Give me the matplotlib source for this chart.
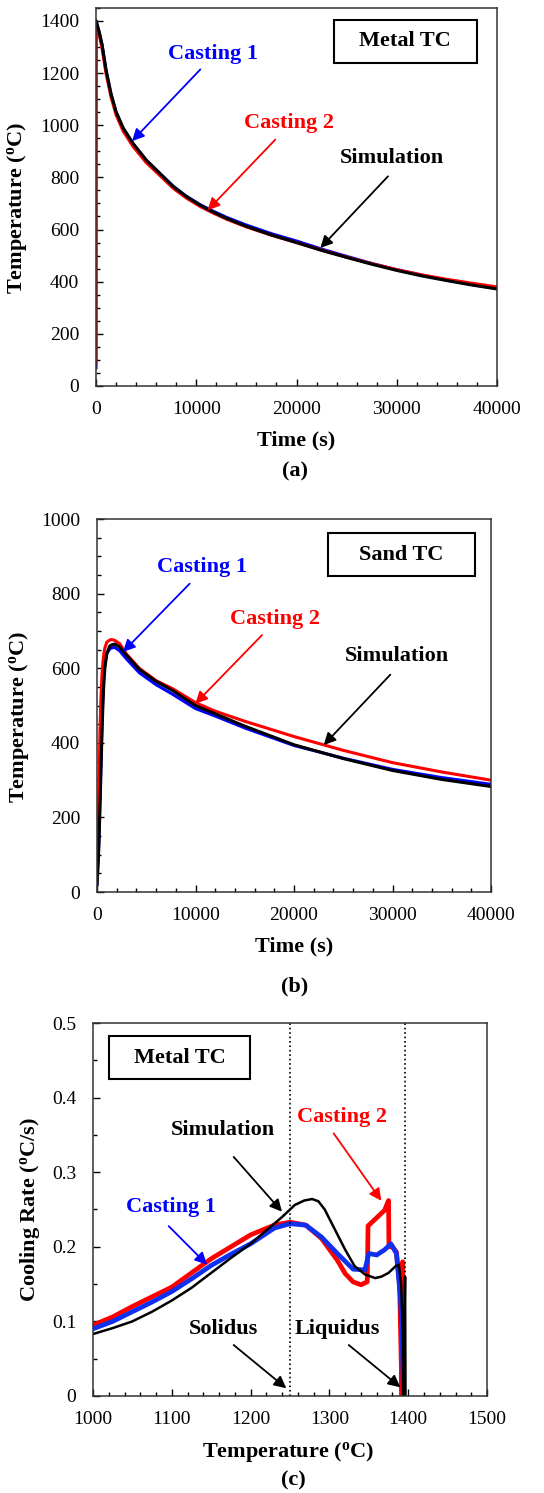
import matplotlib
matplotlib.use('Agg')
import matplotlib.pyplot as plt
from matplotlib.patches import Rectangle
from matplotlib.ticker import MultipleLocator, FuncFormatter

plt.rcParams['font.family'] = 'Liberation Serif'
plt.rcParams['mathtext.fontset'] = 'custom'
plt.rcParams['mathtext.rm'] = 'Liberation Serif'
plt.rcParams['mathtext.bf'] = 'Liberation Serif:bold'

# (a) metal thermocouple, temperature vs time
a_time = [0, 10, 300, 600, 1000, 1500, 2000, 2700, 3700, 5000, 6400, 7700, 9000,
          10400, 11700, 13000, 15000, 17500, 20000, 22500, 25000, 27500, 30000,
          32500, 35000, 37500, 40000]
a_sim = [1400, 1399, 1360, 1310, 1212, 1120, 1052, 990, 930, 867, 814, 765, 727,
         693, 667, 643, 612, 579, 550, 520, 493, 467, 443, 422, 404, 387, 372]
a_cast1 = [70, 1400, 1360, 1308, 1210, 1118, 1050, 988, 928, 866, 814, 766, 728,
           695, 670, 647, 617, 584, 556, 525, 497, 470, 446, 425, 406, 389, 374]
a_cast2 = [90, 1395, 1350, 1295, 1198, 1108, 1040, 978, 918, 857, 806, 758, 721,
           688, 663, 640, 610, 578, 550, 521, 494, 469, 446, 426, 409, 394, 380]

# (b) sand thermocouple
b_time = [0, 150, 200, 300, 400, 500, 600, 700, 800, 1000, 1300, 1500, 1800, 2300,
          3000, 4300, 6000, 7700, 10000, 12000, 15000, 20000, 25000, 30000, 35000, 40000]
b_sim = [20, 95, 130, 225, 320, 420, 500, 560, 600, 640, 660, 663, 665, 657,
         635, 597, 565, 540, 500, 478, 445, 395, 358, 326, 302, 283]
b_cast1 = [20, 110, 150, 250, 350, 450, 530, 585, 615, 640, 652, 655, 656, 647,
           625, 588, 556, 530, 492, 472, 440, 393, 359, 329, 307, 289]
b_cast2 = [30, 200, 270, 430, 520, 580, 615, 640, 655, 670, 676, 677, 675, 666,
           638, 600, 567, 545, 508, 485, 458, 417, 380, 347, 322, 300]

# (c) cooling rate vs temperature, metal thermocouple
c_sim_t = [1000, 1025, 1050, 1075, 1100, 1125, 1150, 1175, 1200, 1220, 1240, 1256,
           1268, 1278, 1286, 1294, 1307, 1320, 1332, 1345, 1358, 1366, 1375, 1384,
           1388, 1391, 1393, 1394, 1396, 1396.5]
c_sim_r = [0.083, 0.091, 0.100, 0.113, 0.128, 0.145, 0.165, 0.185, 0.204, 0.222,
           0.240, 0.256, 0.262, 0.264, 0.261, 0.250, 0.223, 0.196, 0.174, 0.163,
           0.158, 0.160, 0.165, 0.174, 0.176, 0.150, 0.090, 0.0, 0.160, 0.0]
c_cast1_t = [1000, 1025, 1050, 1075, 1100, 1125, 1150, 1175, 1200, 1230, 1250, 1270,
             1290, 1310, 1330, 1345, 1350, 1360, 1370, 1378, 1385, 1390, 1392, 1394]
c_cast1_r = [0.090, 0.100, 0.113, 0.126, 0.140, 0.157, 0.175, 0.190, 0.204, 0.225,
             0.231, 0.229, 0.213, 0.191, 0.170, 0.169, 0.191, 0.189, 0.196, 0.204,
             0.191, 0.133, 0.093, 0.0]
c_cast2_t = [1000, 1025, 1050, 1075, 1100, 1125, 1150, 1175, 1200, 1230, 1250, 1270,
             1290, 1310, 1320, 1330, 1340, 1348, 1349, 1360, 1370, 1375, 1375.5,
             1380, 1385, 1389, 1392, 1393, 1393.5]
c_cast2_r = [0.095, 0.106, 0.120, 0.133, 0.146, 0.165, 0.184, 0.200, 0.216, 0.229,
             0.233, 0.229, 0.211, 0.182, 0.164, 0.153, 0.149, 0.153, 0.228, 0.239,
             0.249, 0.262, 0.200, 0.200, 0.193, 0.150, 0.0, 0.180, 0.0]

BLUE, RED, BLACK = '#0000FF', '#FF0000', 'black'
ANN = dict(fontsize=16, fontweight='bold', ha='center', va='center')


def arrow(ax, tail, head, color):
    ax.annotate('', xy=head, xytext=tail,
                arrowprops=dict(arrowstyle='-|>', color=color, lw=1.3, mutation_scale=18,
                                shrinkA=0, shrinkB=0))


def boxlabel(ax, x0, y0, x1, y1, text):
    ax.add_patch(Rectangle((x0, y0), x1 - x0, y1 - y0, transform=ax.transAxes,
                           fill=False, lw=1.5, ec='black', zorder=5))
    ax.text((x0 + x1) / 2, (y0 + y1) / 2, text, transform=ax.transAxes, **ANN)


def style(ax):
    for sp in ax.spines.values():
        sp.set_linewidth(1.1)
        sp.set_color('#333333')
    ax.tick_params(which='both', direction='in', top=False, right=False, labelsize=14)
    ax.tick_params(which='major', length=5, width=1)
    ax.tick_params(which='minor', length=3, width=1)
    ax.tick_params(axis='x', which='major', pad=11)
    ax.tick_params(axis='y', which='major', pad=12)


fig = plt.figure(figsize=(5.44, 14.93), dpi=100)
ylab_T = r'Temperature ($\mathbf{^o}$C)'

# ---- (a)
ax = fig.add_axes([0.1765, 0.7415, 0.7371, 0.2532])
ax.plot(a_time, a_cast1, color=BLUE, lw=2.2)
ax.plot(a_time, a_cast2, color=RED, lw=2.2)
ax.plot(a_time, a_sim, color=BLACK, lw=2.2)
ax.set_xlim(0, 40000)
ax.set_ylim(0, 1450)
ax.xaxis.set_major_locator(MultipleLocator(10000))
ax.xaxis.set_minor_locator(MultipleLocator(2000))
ax.yaxis.set_major_locator(MultipleLocator(200))
ax.yaxis.set_minor_locator(MultipleLocator(50))
style(ax)
ax.set_xlabel('Time (s)', fontsize=16, fontweight='bold')
ax.set_ylabel(ylab_T, fontsize=16, fontweight='bold')
ax.xaxis.set_label_coords(0.50, -0.118)
ax.yaxis.set_label_coords(-0.168, 0.47)
boxlabel(ax, 0.593, 0.854, 0.950, 0.969, 'Metal TC')
ax.text(11671, 1272, 'Casting 1', color=BLUE, **ANN)
arrow(ax, (10407, 1214), (3591, 939), BLUE)
ax.text(19219, 1007, 'Casting 2', color=RED, **ANN)
arrow(ax, (17889, 945), (11139, 674), RED)
ax.text(29526, 875, 'Simulation', color=BLACK, **ANN)
arrow(ax, (29127, 804), (22377, 529), BLACK)

# ---- (b)
ax = fig.add_axes([0.1783, 0.4025, 0.7243, 0.2498])
ax.plot(b_time, b_cast1, color=BLUE, lw=2.2)
ax.plot(b_time, b_cast2, color=RED, lw=2.2)
ax.plot(b_time, b_sim, color=BLACK, lw=2.2)
ax.set_xlim(0, 40000)
ax.set_ylim(0, 1000)
ax.xaxis.set_major_locator(MultipleLocator(10000))
ax.xaxis.set_minor_locator(MultipleLocator(2000))
ax.yaxis.set_major_locator(MultipleLocator(200))
ax.yaxis.set_minor_locator(MultipleLocator(50))
style(ax)
ax.set_xlabel('Time (s)', fontsize=16, fontweight='bold')
ax.set_ylabel(ylab_T, fontsize=16, fontweight='bold')
ax.xaxis.set_label_coords(0.50, -0.12)
ax.yaxis.set_label_coords(-0.168, 0.47)
boxlabel(ax, 0.586, 0.847, 0.960, 0.962, 'Sand TC')
ax.text(10660, 872, 'Casting 1', color=BLUE, **ANN)
arrow(ax, (9408, 827), (2640, 644), BLUE)
ax.text(18104, 733, 'Casting 2', color=RED, **ANN)
arrow(ax, (16751, 689), (9983, 505), RED)
ax.text(30456, 632, 'Simulation', color=BLACK, **ANN)
arrow(ax, (29779, 583), (23011, 394), BLACK)

# ---- (c)
ax = fig.add_axes([0.1710, 0.0650, 0.7243, 0.2498])
ax.plot(c_cast2_t, c_cast2_r, color=RED, lw=3.4)
ax.plot(c_cast1_t, c_cast1_r, color='#1030F0', lw=3.4)
ax.plot(c_sim_t, c_sim_r, color=BLACK, lw=1.8)
ax.axvline(1250, color='black', ls=':', lw=1.2)
ax.axvline(1396, color='black', ls=':', lw=1.2)
ax.set_xlim(1000, 1500)
ax.set_ylim(0, 0.5)
ax.xaxis.set_major_locator(MultipleLocator(100))
ax.xaxis.set_minor_locator(MultipleLocator(20))
ax.yaxis.set_major_locator(MultipleLocator(0.1))
ax.yaxis.set_minor_locator(MultipleLocator(0.05))
ax.yaxis.set_major_formatter(FuncFormatter(lambda v, p: '0' if v == 0 else f'{v:.1f}'))
style(ax)
ax.set_xlabel(ylab_T, fontsize=16, fontweight='bold')
ax.set_ylabel(r'Cooling Rate ($\mathbf{^o}$C/s)', fontsize=16, fontweight='bold')
ax.xaxis.set_label_coords(0.495, -0.118)
ax.yaxis.set_label_coords(-0.13, 0.50)
boxlabel(ax, 0.040, 0.851, 0.399, 0.964, 'Metal TC')
ax.text(1164.6, 0.357, 'Simulation', color=BLACK, **ANN)
arrow(ax, (1178.5, 0.3205), (1239.8, 0.247), BLACK)
ax.text(1316, 0.374, 'Casting 2', color=RED, **ANN)
arrow(ax, (1305.4, 0.352), (1365.9, 0.2616), RED)
ax.text(1099, 0.2536, 'Casting 1', color=BLUE, **ANN)
arrow(ax, (1096, 0.2277), (1144.7, 0.176), BLUE)
ax.text(1165.8, 0.0893, 'Solidus', color=BLACK, **ANN)
arrow(ax, (1178.5, 0.0683), (1245.3, 0.0103), BLACK)
ax.text(1310.5, 0.0893, 'Liquidus', color=BLACK, **ANN)
arrow(ax, (1324.5, 0.0683), (1390, 0.0116), BLACK)

fig.text(295 / 544, 1 - 471 / 1493, '(a)', fontsize=16, fontweight='bold', ha='center', va='center')
fig.text(295 / 544, 1 - 986 / 1493, '(b)', fontsize=16, fontweight='bold', ha='center', va='center')
fig.text(293 / 544, 1 - 1480 / 1493, '(c)', fontsize=16, fontweight='bold', ha='center', va='center')

fig.savefig('out.png', dpi=100)
